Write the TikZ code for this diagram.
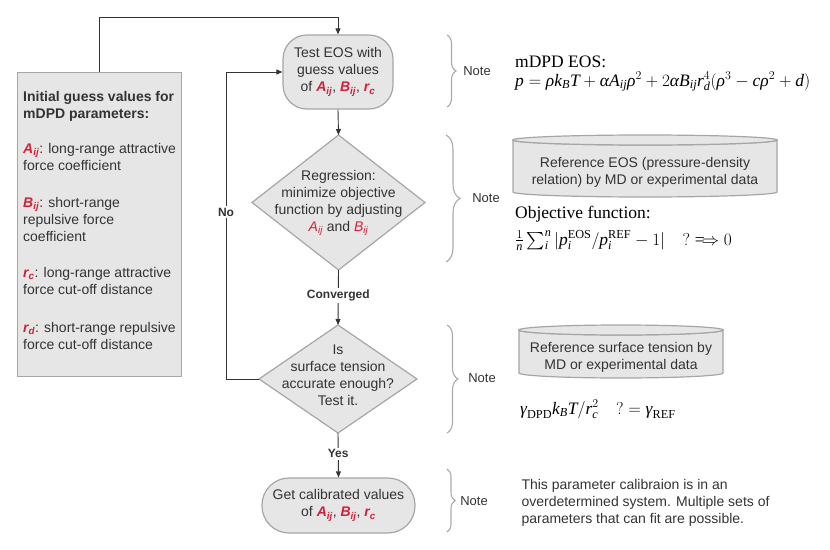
\documentclass[tikz,border=0pt]{standalone}
\usepackage{amsmath}
\usepackage{fontspec}
\setmainfont{Liberation Serif}
\setsansfont{Liberation Sans}
\usetikzlibrary{arrows.meta,decorations.pathreplacing,calc}
\definecolor{txt}{HTML}{333333}
\definecolor{pred}{HTML}{D0213A}
\definecolor{boxfill}{HTML}{E6E6E6}
\definecolor{boxline}{HTML}{A6A6A6}
\definecolor{brcol}{HTML}{AAAAAA}
\newcommand{\pv}[2]{{\color{pred}\bfseries\itshape #1\textsubscript{#2}}}
\newcommand{\pvi}[2]{{\color{pred}\itshape #1\textsubscript{#2}}}
\newcommand{\gr}[1]{\text{\rmfamily\itshape #1}}
\newcommand{\mi}[1]{\mathit{#1}}
\begin{document}
\begin{tikzpicture}[x=1pt,y=-1pt,
  every node/.style={font=\sffamily\fontsize{14}{17}\selectfont, text=txt},
  flowbox/.style={draw=boxline, fill=boxfill, line width=1.2pt},
  arr/.style={draw=txt, line width=0.9pt, -{Triangle[length=6pt,width=5pt]}},
  lbl/.style={font=\sffamily\bfseries\fontsize{12}{14}\selectfont, fill=white, inner sep=2pt},
  bracestyle/.style={draw=brcol, line width=1.1pt, decorate, decoration={brace, amplitude=#1}},
  notelbl/.style={font=\sffamily\fontsize{13}{15}\selectfont},
  formula/.style={font=\rmfamily\fontsize{17.5}{20}\selectfont, text=black, anchor=base west, inner sep=0pt},
]
\useasboundingbox (0,0) rectangle (830,549);

% left box
\node[flowbox, rectangle, minimum width=164pt, minimum height=304pt, anchor=north west] (init) at (17,72) {};
\node[anchor=north west, align=left, inner sep=0pt] (inittxt) at (23,91) {%
\textbf{Initial guess values for}\\
\textbf{mDPD parameters:}\\[18pt]
\pv{A}{ij}: long-range attractive\\
force coefficient\\[20pt]
\pv{B}{ij}: short-range\\
repulsive force\\
coefficient\\[19pt]
\pv{r}{c}: long-range attractive\\
force cut-off distance\\[21pt]
\pv{r}{d}: short-range repulsive\\
force cut-off distance};

% flow nodes
\node[flowbox, rectangle, rounded corners=24pt, minimum width=110pt, minimum height=74pt, align=center] (test) at (338,72)
 {Test EOS with\\guess values\\of \pv{A}{ij}, \pv{B}{ij}, \pv{r}{c}};

\path[flowbox] (252,202.5) -- (338.5,135) -- (425,202.5) -- (338.5,270) -- cycle;
\coordinate (regN) at (338.5,135);
\coordinate (regS) at (338.5,270);
\node[align=center] (regtxt) at (338.5,203) {Regression:\\minimize objective\\function by adjusting\\\pvi{A}{ij} and \pvi{B}{ij}};

\path[flowbox] (259,379) -- (338,325) -- (417,379) -- (338,433) -- cycle;
\coordinate (surfN) at (338,325);
\coordinate (surfS) at (338,433);
\coordinate (surfW) at (259,379);
\node[align=center] (surftxt) at (338,375) {Is\\surface tension\\accurate enough?\\Test it.};

\node[flowbox, rectangle, rounded corners=27pt, minimum width=153pt, minimum height=55pt, align=center] (final) at (338.5,505.5)
 {Get calibrated values\\of \pv{A}{ij}, \pv{B}{ij}, \pv{r}{c}};

% connectors
\coordinate (tc) at (338,17);
\draw[arr] (init.north) |- (tc) -- (test.north);
\draw[arr] (test.south) -- (regN);
\draw[arr] (regS) -- node[lbl, pos=0.47] (conv) {Converged} (surfN);
\draw[arr] (surfS) -- node[lbl, pos=0.47] (yes) {Yes} (final.north);
\coordinate (nocorner) at (226,379);
\draw[arr] (surfW) -- (nocorner) |- node[lbl, pos=0.272] (no) {No} (test.west);

% braces and notes
\draw[bracestyle=9pt] (447,35) -- (447,107);
\node[notelbl] (note1) at (477,71) {Note};
\draw[bracestyle=14pt] (446,135) -- (446,262);
\node[notelbl] (note2) at (486,198) {Note};
\draw[bracestyle=11pt] (447,325) -- (447,433);
\node[notelbl] (note3) at (482,378) {Note};
\draw[bracestyle=8pt] (447,469) -- (447,532);
\node[notelbl] (note4) at (474,501) {Note};

% formulas
\node[formula] (eosT) at (515,67) {mDPD EOS:};
\node[formula] (eosF) at (515,86) {$\mi{p}=\gr{ρ}\mi{k}_{\mi{B}}\mi{T}+\gr{α}\mi{A}_{\mi{ij}}\gr{ρ}^2+2\gr{α}\mi{B}_{\mi{ij}}\mi{r}_{\mi{d}}^4(\gr{ρ}^3-\mi{c}\gr{ρ}^2+\mi{d})$};

% cylinder 1
\path[flowbox] (513,140) -- (513,192) arc[start angle=180,end angle=0,x radius=132,y radius=5] -- (777,140) arc[start angle=0,end angle=180,x radius=132,y radius=5] -- cycle;
\draw[flowbox] (645,140) ellipse[x radius=132, y radius=5];
\node[align=center] (ref1) at (645,172) {Reference EOS (pressure-density\\relation) by MD or experimental data};

\node[formula] (objT) at (515,218) {Objective function:};
\node[formula] (objF) at (515,245) {$\frac{1}{\mi{n}}\sum_{\mi{i}}^{\mi{n}}|\mi{p}_{\mi{i}}^{\mathrm{EOS}}/\mi{p}_{\mi{i}}^{\mathrm{REF}}-1|\quad ?\Longrightarrow 0$};

% cylinder 2
\path[flowbox] (519,330) -- (519,373) arc[start angle=180,end angle=0,x radius=102,y radius=5] -- (723,330) arc[start angle=0,end angle=180,x radius=102,y radius=5] -- cycle;
\draw[flowbox] (621,330) ellipse[x radius=102, y radius=5];
\node[align=center] (ref2) at (621,357) {Reference surface tension by\\MD or experimental data};

\node[formula] (gam) at (520,414) {$\gr{γ}_{\mathrm{DPD}}\mi{k}_{\mi{B}}\mi{T}/\mi{r}_{\mi{c}}^2\quad ?=\gr{γ}_{\mathrm{REF}}$};

\node[anchor=west, align=left] (finalnote) at (518,503) {This parameter calibraion is in an\\overdetermined system. Multiple sets of\\parameters that can fit are possible.};
\end{tikzpicture}
\end{document}
